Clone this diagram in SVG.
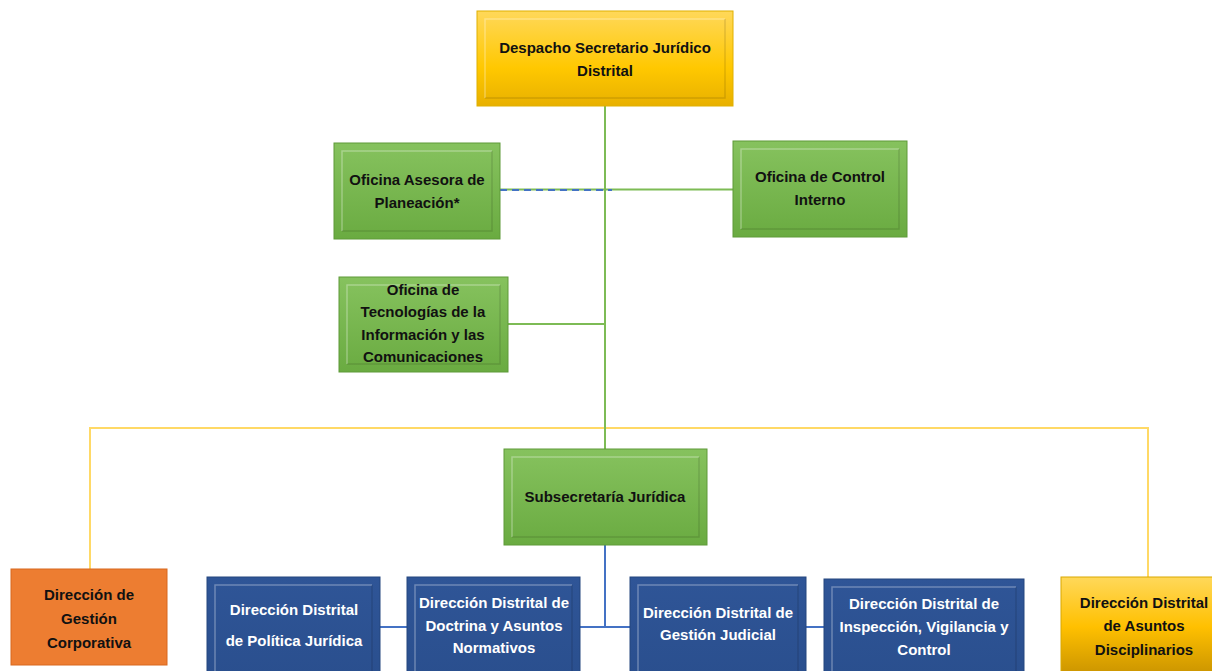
<svg xmlns="http://www.w3.org/2000/svg" width="1212" height="671" viewBox="0 0 1212 671">
<defs>
<linearGradient id="gY" x1="0" y1="0" x2="0" y2="1"><stop offset="0" stop-color="#FFD85A"/><stop offset="0.6" stop-color="#FFC800"/><stop offset="1" stop-color="#E8B000"/></linearGradient>
<linearGradient id="gY2" x1="0" y1="0" x2="0" y2="1"><stop offset="0" stop-color="#FFD85A"/><stop offset="0.5" stop-color="#FFC000"/><stop offset="1" stop-color="#C89200"/></linearGradient>
<linearGradient id="gG" x1="0" y1="0" x2="0" y2="1"><stop offset="0" stop-color="#86C25E"/><stop offset="1" stop-color="#6AAB41"/></linearGradient>
<linearGradient id="gB" x1="0" y1="0" x2="0" y2="1"><stop offset="0" stop-color="#2F5597"/><stop offset="1" stop-color="#2A4F8E"/></linearGradient>
</defs>
<style>
text{font-family:"Liberation Sans",Arial,sans-serif;font-weight:bold;font-size:15px;text-anchor:middle;fill:#111}
.w{fill:#fff}
.y{fill:url(#gY);stroke:#E0B000;stroke-width:1}
.y2{fill:url(#gY2);stroke:#D9A800;stroke-width:1}
.g{fill:url(#gG);stroke:#5E9A38;stroke-width:1}
.b{fill:url(#gB);stroke:#24467F;stroke-width:1}
.o{fill:#ED7D31;stroke:#D8691F;stroke-width:1}
.bev{fill:none;stroke:#fff;stroke-opacity:0.3;stroke-width:1.5}
.bevd{fill:none;stroke:#000;stroke-opacity:0.12;stroke-width:1.5}
.cg{stroke:#7DBB55;stroke-width:2;fill:none}
.cy{stroke:#FFD966;stroke-width:2;fill:none}
.cb{stroke:#4472C4;stroke-width:2;fill:none}
.cd{stroke:#4472C4;stroke-width:2;stroke-dasharray:7 5;fill:none}
</style>
<g id="connectors">
<path class="cy" d="M90,569 V428 H1148 V577"/>
<path class="cg" d="M605,106 V449"/>
<path class="cg" d="M500,189.5 H733"/>
<path class="cd" d="M500,190 H612"/>
<path class="cg" d="M508,324 H605"/>
<path class="cb" d="M605,545 V627"/>
<path class="cb" d="M380,627 H825"/>
</g>
<g id="despacho">
<rect class="y" x="477" y="11" width="256" height="95"/>
<path class="bev" d="M485,98 V19 H725"/><path class="bevd" d="M725,19 V98 H485"/>
<text x="605" y="53">Despacho Secretario Jurídico</text>
<text x="605" y="76">Distrital</text>
</g>
<g id="planeacion">
<rect class="g" x="334" y="143" width="166" height="96"/>
<path class="bev" d="M342,231 V151 H492"/><path class="bevd" d="M492,151 V231 H342"/>
<text x="417" y="185">Oficina Asesora de</text>
<text x="417" y="208">Planeación*</text>
</g>
<g id="control-interno">
<rect class="g" x="733" y="141" width="174" height="96"/>
<path class="bev" d="M741,229 V149 H899"/><path class="bevd" d="M899,149 V229 H741"/>
<text x="820" y="182">Oficina de Control</text>
<text x="820" y="205">Interno</text>
</g>
<g id="tic">
<rect class="g" x="339" y="277" width="169" height="95"/>
<path class="bev" d="M347,364 V285 H500"/><path class="bevd" d="M500,285 V364 H347"/>
<text x="423" y="295">Oficina de</text>
<text x="423" y="317">Tecnologías de la</text>
<text x="423" y="340">Información y las</text>
<text x="423" y="362">Comunicaciones</text>
</g>
<g id="subsecretaria">
<rect class="g" x="504" y="449" width="203" height="96"/>
<path class="bev" d="M512,537 V457 H699"/><path class="bevd" d="M699,457 V537 H512"/>
<text x="605" y="502">Subsecretaría Jurídica</text>
</g>
<g id="gestion-corporativa">
<rect class="o" x="11" y="569" width="156" height="96"/>
<text x="89" y="600">Dirección de</text>
<text x="89" y="624">Gestión</text>
<text x="89" y="648">Corporativa</text>
</g>
<g id="politica-juridica">
<rect class="b" x="207" y="577" width="173" height="100"/>
<path class="bev" d="M215,680 V585 H372"/><path class="bevd" d="M372,585 V680"/>
<text class="w" x="294" y="615">Dirección Distrital</text>
<text class="w" x="294" y="646">de Política Jurídica</text>
</g>
<g id="doctrina">
<rect class="b" x="407" y="577" width="173" height="100"/>
<path class="bev" d="M415,680 V585 H572"/><path class="bevd" d="M572,585 V680"/>
<text class="w" x="494" y="608">Dirección Distrital de</text>
<text class="w" x="494" y="631">Doctrina y Asuntos</text>
<text class="w" x="494" y="653">Normativos</text>
</g>
<g id="gestion-judicial">
<rect class="b" x="630" y="577" width="176" height="100"/>
<path class="bev" d="M638,680 V585 H798"/><path class="bevd" d="M798,585 V680"/>
<text class="w" x="718" y="618">Dirección Distrital de</text>
<text class="w" x="718" y="640">Gestión Judicial</text>
</g>
<g id="inspeccion">
<rect class="b" x="824" y="579" width="200" height="100"/>
<path class="bev" d="M832,680 V587 H1016"/><path class="bevd" d="M1016,587 V680"/>
<text class="w" x="924" y="609">Dirección Distrital de</text>
<text class="w" x="924" y="632">Inspección, Vigilancia y</text>
<text class="w" x="924" y="655">Control</text>
</g>
<g id="asuntos-disciplinarios">
<rect class="y2" x="1061" y="577" width="160" height="100"/>
<text x="1144" y="608">Dirección Distrital</text>
<text x="1144" y="631">de Asuntos</text>
<text x="1144" y="655">Disciplinarios</text>
</g>
</svg>
